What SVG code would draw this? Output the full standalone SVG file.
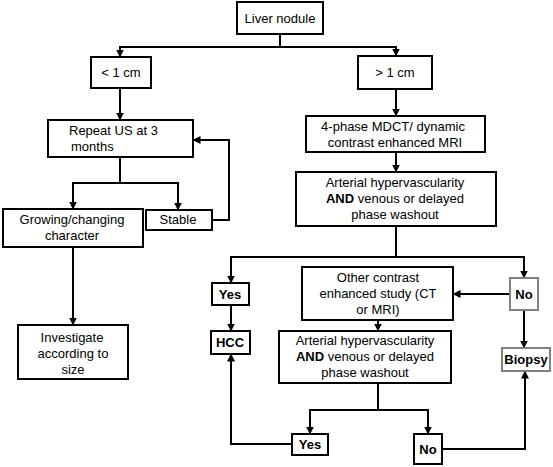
<svg xmlns="http://www.w3.org/2000/svg" width="553" height="467" viewBox="0 0 553 467">
<defs>
<marker id="ah" viewBox="0 0 8 8" refX="7.5" refY="4" markerWidth="4" markerHeight="4" orient="auto" markerUnits="strokeWidth">
<path d="M0,0 L8,4 L0,8 z" fill="#000"/>
</marker>
</defs>
<style>
.box{fill:#fff;stroke:#000;stroke-width:2}
.gbox{fill:#fff;stroke:#808080;stroke-width:2}
text{font-family:"Liberation Sans",Arial,sans-serif;font-size:13px;fill:#000}
.c{text-anchor:middle}
.b{font-weight:bold}
.ln{fill:none;stroke:#000;stroke-width:2}
.ar{fill:none;stroke:#000;stroke-width:2;marker-end:url(#ah)}
</style>
<rect width="553" height="467" fill="#fff"/>
<g id="connectors">
<path class="ln" d="M280,34 V47"/>
<path class="ar" d="M280,47 H120 V57"/>
<path class="ar" d="M280,47 H396 V56"/>
<path class="ar" d="M120,88 V120"/>
<path class="ar" d="M396,89 V116"/>
<path class="ar" d="M396,152 V172"/>
<path class="ln" d="M120,157 V183"/>
<path class="ar" d="M120,183 H73 V209"/>
<path class="ar" d="M120,183 H178 V210"/>
<path class="ar" d="M212,220 H229 V140 H193"/>
<path class="ar" d="M73,247 V325"/>
<path class="ln" d="M396,226 V257"/>
<path class="ar" d="M396,257 H231 V283"/>
<path class="ar" d="M396,257 H524 V278"/>
<path class="ar" d="M510,294 H453"/>
<path class="ar" d="M524,310 V348"/>
<path class="ar" d="M231,305 V331"/>
<path class="ar" d="M378,320 V331"/>
<path class="ln" d="M378,383 V410"/>
<path class="ar" d="M378,410 H310 V434"/>
<path class="ar" d="M378,410 H428 V434"/>
<path class="ar" d="M292,444 H231 V354"/>
<path class="ar" d="M442,449 H525 V371"/>
</g>
<g id="liver">
<rect class="box" x="237" y="2" width="86" height="32"/>
<text class="c" x="280" y="23">Liver nodule</text>
</g>
<g id="lt1">
<rect class="box" x="91" y="57" width="60" height="31"/>
<text class="c" x="121" y="77">&lt; 1 cm</text>
</g>
<g id="gt1">
<rect class="box" x="358" y="56" width="74" height="33"/>
<text class="c" x="395" y="77">&gt; 1 cm</text>
</g>
<g id="repeat">
<rect class="box" x="48" y="120" width="145" height="37"/>
<text x="69" y="135">Repeat US at 3</text>
<text x="71" y="151">months</text>
</g>
<g id="mdct">
<rect class="box" x="306" y="116" width="179" height="36"/>
<text class="c" x="393" y="131">4-phase MDCT/ dynamic</text>
<text class="c" x="395" y="147">contrast enhanced MRI</text>
</g>
<g id="art1">
<rect class="box" x="296" y="172" width="200" height="54"/>
<text class="c" x="395" y="187">Arterial hypervascularity</text>
<text class="c" x="395" y="203"><tspan class="b">AND</tspan> venous or delayed</text>
<text class="c" x="395" y="219">phase washout</text>
</g>
<g id="growing">
<rect class="box" x="3" y="209" width="140" height="38"/>
<text class="c" x="72" y="224">Growing/changing</text>
<text class="c" x="72" y="240">character</text>
</g>
<g id="stable">
<rect class="box" x="146" y="210" width="66" height="20"/>
<text class="c" x="178" y="224">Stable</text>
</g>
<g id="investigate">
<rect class="box" x="18" y="325" width="110" height="54"/>
<text class="c" x="72" y="342">Investigate</text>
<text class="c" x="73" y="358">according to</text>
<text class="c" x="73" y="374">size</text>
</g>
<g id="yes1">
<rect class="box" x="212" y="283" width="37" height="22"/>
<text class="c b" x="230" y="299">Yes</text>
</g>
<g id="other">
<rect class="box" x="302" y="267" width="151" height="53"/>
<text class="c" x="378" y="282">Other contrast</text>
<text class="c" x="378" y="298">enhanced study (CT</text>
<text class="c" x="378" y="314">or MRI)</text>
</g>
<g id="no1">
<rect class="gbox" x="510" y="278" width="28" height="32"/>
<text class="c b" x="524" y="299">No</text>
</g>
<g id="hcc">
<rect class="box" x="211" y="331" width="39" height="23"/>
<text class="c b" x="230" y="347">HCC</text>
</g>
<g id="art2">
<rect class="box" x="279" y="331" width="172" height="52"/>
<text class="c" x="365" y="345">Arterial hypervascularity</text>
<text class="c" x="365" y="361"><tspan class="b">AND</tspan> venous or delayed</text>
<text class="c" x="365" y="377">phase washout</text>
</g>
<g id="biopsy">
<rect class="gbox" x="502" y="348" width="48" height="23"/>
<text class="c b" x="526" y="364">Biopsy</text>
</g>
<g id="yes2">
<rect class="box" x="292" y="434" width="36" height="21"/>
<text class="c b" x="310" y="449">Yes</text>
</g>
<g id="no2">
<rect class="box" x="414" y="434" width="28" height="30"/>
<text class="c b" x="428" y="454">No</text>
</g>
</svg>
